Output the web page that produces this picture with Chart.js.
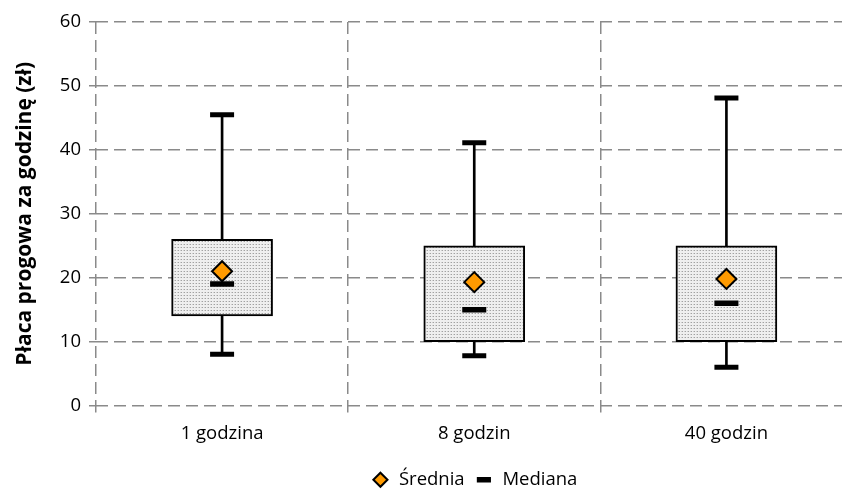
<!DOCTYPE html>
<html>
<head>
<meta charset="utf-8">
<script src="https://cdn.jsdelivr.net/npm/chart.js@4.4.1/dist/chart.umd.min.js"></script>
<style>
  html, body { margin: 0; padding: 0; background: #fff; overflow: hidden; }
  #wrap { width: 870px; height: 499px; }
</style>
</head>
<body>
<div id="wrap"><canvas id="chart"></canvas></div>
<script>
// ===== Data =====
const categories = ['1 godzina', '8 godzin', '40 godzin'];
const minValues = [8, 7.8, 6];
const q1Values = [14, 10, 10];
const medianValues = [19, 15, 16];
const meanValues = [21, 19.3, 19.8];
const q3Values = [26, 25, 25];
const maxValues = [45.5, 41.1, 48.1];
const yTicks = [0, 10, 20, 30, 40, 50, 60];

const FONT = "'Open Sans', sans-serif";
const GRID = '#8a8a8a';

// dotted fill for the boxes
function dotPattern() {
  const c = document.createElement('canvas');
  c.width = 3; c.height = 3;
  const g = c.getContext('2d');
  g.fillStyle = '#efefef';
  g.fillRect(0, 0, 3, 3);
  g.fillStyle = '#a2a2a2';
  g.fillRect(1, 1, 1, 1);
  g.fillStyle = '#cfcfcf';
  g.fillRect(0, 1, 1, 1);
  return g.createPattern(c, 'repeat');
}

const boxData = categories.map((_, i) => [q1Values[i], q3Values[i]]);
const whiskerData = categories.map((_, i) => [minValues[i], maxValues[i]]);

new Chart(document.getElementById('chart'), {
  data: {
    labels: categories,
    datasets: [
      {
        type: 'line', label: 'Średnia', data: meanValues, showLine: false,
        pointStyle: 'rectRot', pointRadius: 10, pointHoverRadius: 10,
        backgroundColor: '#ff9a00', borderColor: '#000', borderWidth: 2, order: 0
      },
      {
        type: 'line', label: 'Mediana', data: medianValues, showLine: false,
        pointStyle: 'line', pointRadius: 12, pointHoverRadius: 12,
        backgroundColor: '#000', borderColor: '#000', borderWidth: 5.5, order: 1
      },
      {
        type: 'line', label: 'max', data: maxValues, showLine: false,
        pointStyle: 'line', pointRadius: 12, pointHoverRadius: 12,
        borderColor: '#000', borderWidth: 5, order: 2
      },
      {
        type: 'line', label: 'min', data: minValues, showLine: false,
        pointStyle: 'line', pointRadius: 12, pointHoverRadius: 12,
        borderColor: '#000', borderWidth: 5, order: 2
      },
      {
        type: 'bar', label: 'box', data: boxData, barThickness: 101,
        backgroundColor: dotPattern(), borderColor: '#000', borderWidth: 2,
        borderSkipped: false, order: 3
      },
      {
        type: 'bar', label: 'whisker', data: whiskerData, barThickness: 2,
        backgroundColor: '#000', borderWidth: 0, order: 4
      }
    ]
  },
  options: {
    responsive: true,
    maintainAspectRatio: false,
    animation: false,
    layout: { padding: { top: 22, right: 16, left: 0, bottom: 0 } },
    plugins: {
      tooltip: { enabled: false },
      legend: {
        position: 'bottom',
        fullSize: false,
        labels: {
          usePointStyle: true,
          boxHeight: 10,
          padding: 10,
          color: '#000',
          font: { family: FONT, size: 18.5 },
          filter: item => item.text === 'Średnia' || item.text === 'Mediana'
        }
      }
    },
    scales: {
      x: {
        stacked: true,
        grid: { color: GRID, lineWidth: 1.5, offset: true, tickLength: 7, tickBorderDash: [], tickColor: GRID },
        border: { display: false, color: GRID, width: 1.5, dash: [12, 6] },
        ticks: { color: '#000', font: { family: FONT, size: 18.5 }, padding: 10 },
        afterFit: s => { s.height = 55; }
      },
      y: {
        min: 0, max: 60,
        grid: { color: GRID, lineWidth: 1.5, tickLength: 7, tickBorderDash: [], tickColor: GRID },
        border: { display: false, color: GRID, width: 1.5, dash: [12, 6] },
        afterBuildTicks: s => { s.ticks = yTicks.map(v => ({ value: v })); },
        ticks: { color: '#000', font: { family: FONT, size: 18.5 }, padding: 8 },
        title: {
          display: true,
          text: 'Płaca progowa za godzinę (zł)',
          color: '#000',
          font: { family: FONT, size: 21, weight: 'bold' },
          padding: { top: 12, bottom: 0 }
        },
        afterFit: s => { s.width = 96; }
      }
    }
  }
});
</script>
</body>
</html>
